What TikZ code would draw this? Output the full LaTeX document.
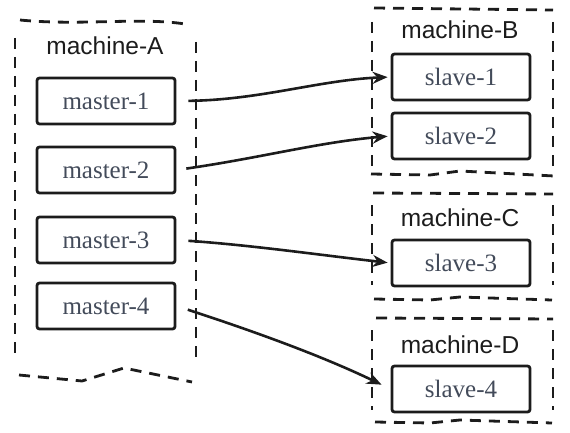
\documentclass[tikz,border=0pt]{standalone}
\usepackage{fontspec}
\setmainfont{Liberation Serif}
\newfontfamily\labelsans{Liberation Sans}
\usetikzlibrary{arrows.meta}
\definecolor{inkc}{HTML}{1C1C1C}
\definecolor{textc}{HTML}{434B5A}
\tikzset{
  procbox/.style={draw=inkc, line width=2.8pt, rounded corners=2.5pt, minimum width=138pt, minimum height=46pt, inner sep=0pt,
    font=\fontsize{25}{28}\selectfont, text=textc},
  machlabel/.style={font=\labelsans\fontsize{24.5}{28}\selectfont, text=inkc, inner sep=0pt},
  machbox/.style={draw=inkc, line width=2.8pt, dash pattern=on 11pt off 8pt},
  link/.style={draw=inkc, line width=2.6pt, -{Stealth[length=15pt,width=12pt]}}
}
\begin{document}
\begin{tikzpicture}[x=1pt,y=-1pt]
\useasboundingbox (0,0) rectangle (570,433);
% machine-A container
\draw[machbox] (20,20) .. controls (80,26) and (140,17) .. (185,24);
\draw[machbox] (15,38) -- (15,355);
\draw[machbox] (196,42) -- (196,357);
\draw[machbox] (19,375) -- (82,381) -- (124,368) -- (192,382);
\node[machlabel] (labA) at (105,46) {machine-A};
% machine-B container
\draw[machbox] (374,8) -- (553,10);
\draw[machbox] (372,22) -- (372,168);
\draw[machbox] (553,22) -- (553,168);
\draw[machbox] (371,174) -- (430,175) -- (460,171) -- (554,176);
\node[machlabel] (labB) at (460,30) {machine-B};
% machine-C container
\draw[machbox] (373,193) -- (553,194);
\draw[machbox] (372,205) -- (372,285);
\draw[machbox] (553,205) -- (553,285);
\draw[machbox] (374,299) -- (430,300) -- (460,297) -- (552,300);
\node[machlabel] (labC) at (460,218) {machine-C};
% machine-D container
\draw[machbox] (376,318) -- (553,319);
\draw[machbox] (372,330) -- (372,410);
\draw[machbox] (553,330) -- (553,410);
\draw[machbox] (375,422) -- (430,423) -- (460,420) -- (552,423);
\node[machlabel] (labD) at (460,345) {machine-D};
% masters
\node[procbox] (m1) at (106,101) {master-1};
\node[procbox] (m2) at (106,170) {master-2};
\node[procbox] (m3) at (106,240) {master-3};
\node[procbox] (m4) at (106,306) {master-4};
% slaves
\node[procbox] (s1) at (461,77) {slave-1};
\node[procbox] (s2) at (461,136) {slave-2};
\node[procbox] (s3) at (461,263) {slave-3};
\node[procbox] (s4) at (461,389) {slave-4};
% links
\draw[link, shorten <=12pt, shorten >=3pt] (m1.east) .. controls (260,100) and (320,80) .. (s1.west);
\draw[link, shorten <=10pt, shorten >=3pt] (m2.east) .. controls (260,158) and (320,142) .. (s2.west);
\draw[link, shorten <=12pt, shorten >=3pt] (m3.east) .. controls (250,245) and (320,255) .. (s3.west);
\draw[link, shorten <=12pt, shorten >=10pt] (m4.east) .. controls (250,330) and (320,355) .. (s4.west);
\end{tikzpicture}
\end{document}
